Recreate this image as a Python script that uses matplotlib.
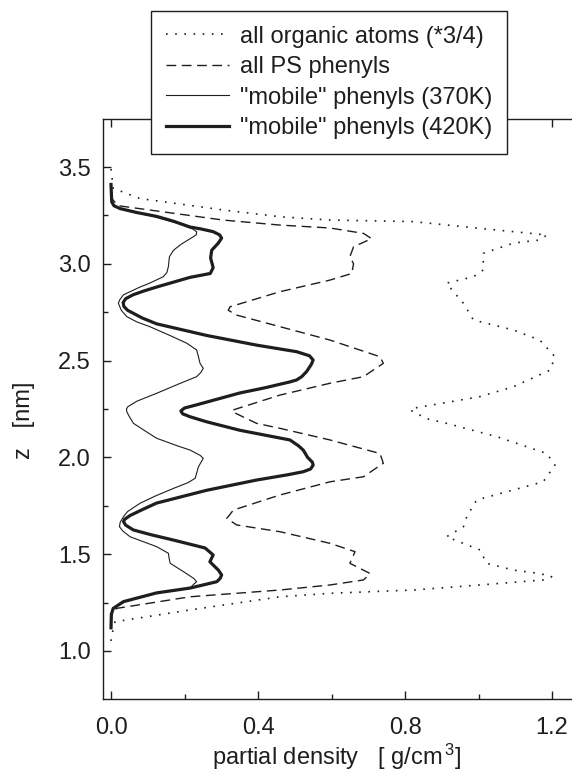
import matplotlib
matplotlib.use("Agg")
import matplotlib.pyplot as plt
from matplotlib.ticker import MultipleLocator, FixedLocator

plt.rcParams['font.family'] = ['Liberation Sans', 'DejaVu Sans']
plt.rcParams['mathtext.fontset'] = 'custom'
plt.rcParams['mathtext.rm'] = 'Liberation Sans'
plt.rcParams['mathtext.it'] = 'Liberation Sans:italic'

# --- data (z in nm, partial density in g/cm^3) ---
organic_z = [3.49, 3.39, 3.337, 3.278, 3.243, 3.226, 3.218, 3.183, 3.149, 3.123, 3.107,
             3.054, 2.968, 2.933, 2.90, 2.856, 2.796, 2.71, 2.658, 2.606, 2.52, 2.451,
             2.365, 2.314, 2.254, 2.245, 2.20, 2.176, 2.107, 2.02, 1.96, 1.874, 1.832,
             1.78, 1.694, 1.642, 1.59, 1.522, 1.453, 1.418, 1.40, 1.384, 1.367, 1.341,
             1.315, 1.298, 1.28, 1.212, 1.151, 1.066, 1.015]
organic_rho = [0.0, 0.006, 0.079, 0.306, 0.46, 0.596, 0.823, 1.004, 1.186, 1.167, 1.095,
               1.013, 1.013, 0.986, 0.913, 0.932, 0.959, 0.986, 1.095, 1.167, 1.208, 1.195,
               1.095, 1.004, 0.823, 0.814, 0.859, 0.913, 1.05, 1.186, 1.208, 1.176, 1.095,
               0.995, 0.968, 0.959, 0.913, 1.004, 1.022, 1.095, 1.167, 1.199, 1.176, 1.004,
               0.823, 0.596, 0.46, 0.215, 0.011, 0.0, 0.0]

phenyl_z = [3.36, 3.33, 3.30, 3.226, 3.20, 3.185, 3.157, 3.13, 3.088, 3.037, 3.0, 2.95,
            2.916, 2.856, 2.778, 2.76, 2.735, 2.606, 2.52, 2.486, 2.417, 2.383, 2.322,
            2.245, 2.236, 2.176, 2.15, 2.09, 2.02, 1.97, 1.90, 1.874, 1.806, 1.728, 1.685,
            1.651, 1.616, 1.556, 1.513, 1.453, 1.40, 1.367, 1.341, 1.315, 1.28, 1.22, 1.18]
phenyl_rho = [0.0, 0.005, 0.02, 0.305, 0.46, 0.596, 0.687, 0.709, 0.66, 0.65, 0.66, 0.655,
              0.596, 0.46, 0.324, 0.319, 0.342, 0.596, 0.732, 0.741, 0.687, 0.596, 0.46,
              0.332, 0.33, 0.396, 0.46, 0.596, 0.732, 0.741, 0.687, 0.596, 0.46, 0.333, 0.315,
              0.342, 0.46, 0.596, 0.664, 0.65, 0.705, 0.687, 0.596, 0.46, 0.215, 0.015, 0.0]

mob370_z = [3.41, 3.32, 3.30, 3.285, 3.265, 3.245, 3.21, 3.18, 3.166, 3.15, 3.14, 3.10, 3.07,
            3.037, 2.985, 2.955, 2.933, 2.90, 2.88, 2.84, 2.815, 2.796, 2.76, 2.727, 2.70,
            2.675, 2.63, 2.59, 2.555, 2.52, 2.487, 2.46, 2.44, 2.417, 2.38, 2.331, 2.29,
            2.262, 2.25, 2.236, 2.21, 2.176, 2.14, 2.099, 2.06, 2.038, 2.01, 1.995, 1.975,
            1.952, 1.892, 1.87, 1.84, 1.80, 1.763, 1.72, 1.694, 1.665, 1.642, 1.62, 1.59,
            1.539, 1.505, 1.48, 1.453, 1.41, 1.375, 1.358, 1.345, 1.325, 1.30, 1.255, 1.22,
            1.19, 1.12]
mob370_rho = [0.0, 0.002, 0.008, 0.025, 0.065, 0.115, 0.18, 0.222, 0.233, 0.232, 0.224, 0.19,
              0.17, 0.159, 0.156, 0.152, 0.142, 0.105, 0.079, 0.034, 0.024, 0.02, 0.028, 0.043,
              0.07, 0.106, 0.16, 0.206, 0.233, 0.238, 0.242, 0.251, 0.245, 0.233, 0.185, 0.124,
              0.07, 0.046, 0.042, 0.043, 0.05, 0.061, 0.09, 0.124, 0.18, 0.215, 0.243, 0.251,
              0.245, 0.238, 0.229, 0.21, 0.17, 0.12, 0.079, 0.045, 0.034, 0.025, 0.023, 0.032,
              0.052, 0.124, 0.156, 0.158, 0.161, 0.197, 0.225, 0.233, 0.225, 0.215, 0.124,
              0.034, 0.006, 0.001, 0.0]

mob420_z = [3.41, 3.32, 3.30, 3.285, 3.265, 3.245, 3.22, 3.19, 3.18, 3.166, 3.15, 3.133,
            3.107, 3.07, 3.03, 2.98, 2.95, 2.93, 2.88, 2.86, 2.84, 2.82, 2.80, 2.78, 2.76,
            2.745, 2.72, 2.69, 2.63, 2.58, 2.546, 2.525, 2.503, 2.48, 2.443, 2.417, 2.40,
            2.39, 2.36, 2.333, 2.27, 2.255, 2.24, 2.225, 2.21, 2.184, 2.14, 2.09, 2.06,
            2.038, 2.00, 1.975, 1.96, 1.94, 1.926, 1.91, 1.883, 1.83, 1.764, 1.73, 1.70,
            1.68, 1.668, 1.65, 1.625, 1.60, 1.573, 1.532, 1.496, 1.461, 1.418, 1.393, 1.375,
            1.358, 1.325, 1.30, 1.255, 1.22, 1.19, 1.12]
mob420_rho = [0.0, 0.002, 0.008, 0.025, 0.07, 0.124, 0.17, 0.215, 0.245, 0.278, 0.295, 0.301,
              0.292, 0.274, 0.271, 0.278, 0.27, 0.215, 0.124, 0.09, 0.06, 0.04, 0.033, 0.035,
              0.045, 0.06, 0.085, 0.124, 0.26, 0.396, 0.505, 0.54, 0.55, 0.545, 0.532, 0.519,
              0.505, 0.487, 0.42, 0.351, 0.23, 0.20, 0.19, 0.195, 0.215, 0.26, 0.351, 0.487,
              0.51, 0.523, 0.535, 0.548, 0.55, 0.543, 0.523, 0.48, 0.396, 0.26, 0.124, 0.085,
              0.052, 0.037, 0.034, 0.04, 0.061, 0.11, 0.17, 0.256, 0.278, 0.269, 0.292, 0.301,
              0.297, 0.288, 0.215, 0.124, 0.034, 0.006, 0.001, 0.0]

labels = ['all organic atoms (*3/4)', 'all PS phenyls',
          '"mobile" phenyls (370K)', '"mobile" phenyls (420K)']

ink = '#1e1e1e'
fs = 17
fs_leg = 17

fig = plt.figure(figsize=(5.72, 7.73), dpi=100)
ax = fig.add_axes([103 / 572, 74 / 773, 469 / 572, 580 / 773])

ax.plot(organic_rho, organic_z, color=ink, lw=1.2, ls=(0, (1, 4.5)), label=labels[0])
ax.plot(phenyl_rho, phenyl_z, color=ink, lw=1.0, ls=(0, (7, 4)), label=labels[1])
ax.plot(mob370_rho, mob370_z, color=ink, lw=0.8, label=labels[2])
ax.plot(mob420_rho, mob420_z, color=ink, lw=2.3, label=labels[3])

ax.set_xlim(-0.0218, 1.2544)
ax.set_ylim(0.752, 3.748)
ax.xaxis.set_major_locator(FixedLocator([0.0, 0.4, 0.8, 1.2]))
ax.xaxis.set_minor_locator(FixedLocator([0.2, 0.6, 1.0]))
ax.set_xticklabels(['0.0', '0.4', '0.8', '1.2'])
ax.yaxis.set_major_locator(MultipleLocator(0.5))
ax.yaxis.set_minor_locator(MultipleLocator(0.25))
ax.yaxis.set_major_formatter(matplotlib.ticker.FormatStrFormatter('%.1f'))

ax.tick_params(which='both', direction='in', top=True, right=False,
               colors=ink, labelsize=fs, width=1.0)
ax.tick_params(which='major', length=6)
ax.tick_params(which='minor', length=3.5)
ax.tick_params(axis='x', pad=13)
ax.tick_params(axis='y', pad=9)
ax.spines['right'].set_visible(False)
for s in ['left', 'top', 'bottom']:
    ax.spines[s].set_color(ink)
    ax.spines[s].set_linewidth(1.0)

fig.text(24 / 572, 1 - 420 / 773, 'z   [nm]', rotation=90, ha='center', va='center',
         fontsize=fs, color=ink)
fig.text(337 / 572, 8 / 773, 'partial density   [ g/cm$^{\\,3}$]', ha='center',
         va='baseline', fontsize=fs, color=ink)

leg = ax.legend(loc='upper left', bbox_to_anchor=(151 / 572, 1 - 11 / 773),
                bbox_transform=fig.transFigure, borderaxespad=0, fontsize=fs_leg,
                fancybox=False, framealpha=1, edgecolor=ink, handlelength=2.7,
                handletextpad=0.45, labelspacing=0.36, borderpad=0.62)
leg.get_frame().set_linewidth(1.0)
for t in leg.get_texts():
    t.set_color(ink)

fig.savefig('out.png', dpi=100)
